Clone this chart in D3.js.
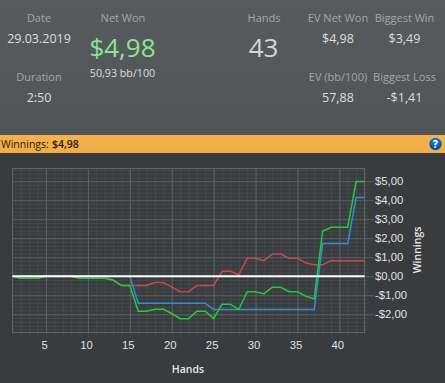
<!DOCTYPE html>
<html>
<head>
<meta charset="utf-8">
<script src="https://cdn.jsdelivr.net/npm/d3@7"></script>
<style>
  html, body { margin: 0; padding: 0; background: #383c3f; }
  svg { display: block; font-family: "Open Sans", "Noto Sans", sans-serif; }
</style>
</head>
<body>
<svg></svg>
<script>
const hands = d3.range(1, 44)

const net_won = [0, -0.1, -0.1, -0.1, 0, 0, 0, 0, -0.1, -0.1, -0.1, -0.1, -0.2, -0.49, -0.49,
  -1.84, -1.84, -1.74, -1.74, -1.96, -2.23, -2.23, -1.84, -1.84, -2.23, -1.47, -1.47, -1.74,
  -0.81, -0.81, -0.93, -0.58, -0.58, -0.81, -0.81, -1.05, -1.19, 2.37, 2.58, 2.58, 2.58, 4.98, 4.98]

const showdown = [0, -0.1, -0.1, -0.1, 0, 0, 0, 0, -0.1, -0.1, -0.1, -0.1, -0.2, -0.49, -0.49,
  -0.49, -0.49, -0.33, -0.33, -0.56, -0.81, -0.81, -0.49, -0.49, -0.49, 0.26, 0.26, 0.07,
  0.95, 0.95, 0.82, 1.17, 1.17, 0.95, 0.95, 0.7, 0.6, 0.6, 0.82, 0.82, 0.82, 0.82, 0.82]

const ev_won = [0, 0, 0, 0, 0, 0, 0, 0, 0, 0, 0, 0, 0, 0, 0,
  -1.42, -1.42, -1.42, -1.42, -1.42, -1.42, -1.42, -1.42, -1.42, -1.75, -1.75, -1.75, -1.75,
  -1.75, -1.75, -1.75, -1.75, -1.75, -1.75, -1.75, -1.75, -1.75, 1.72, 1.72, 1.72, 1.72, 4.14, 4.14]

const x_labels = [5, 10, 15, 20, 25, 30, 35, 40]
const y_labels = [-2, -1, 0, 1, 2, 3, 4, 5]
const y_minor = d3.range(-14, 29).map(d => d / 5)

const header_left = [
  ["Date", "29.03.2019", 39, 21.5, 43],
  ["Duration", "2:50", 39, 81, 102]
]
const header_right = [
  ["EV Net Won", "$4,98", 338, 21.5, 43],
  ["Biggest Win", "$3,49", 404.5, 21.5, 43],
  ["EV (bb/100)", "57,88", 338, 81, 102],
  ["Biggest Loss", "-$1,41", 404.5, 81, 102]
]

const width = 445
const height = 383
const marginLeft = 12.5
const marginRight = 80.5
const marginTop = 168.5
const marginBottom = 50.5

const svg = d3.select("svg")
  .attr("width", width)
  .attr("height", height)
  .attr("viewBox", [0, 0, width, height])

const money = v => (v < 0 ? "-$" : "$") + Math.abs(v).toFixed(2).replace(".", ",")

const scale_x = d3.scaleLinear().domain([1, 43]).range([marginLeft, width - marginRight])
const scale_y = d3.scaleLinear().domain([-2.96, 5.67]).range([height - marginBottom, marginTop])

// ------- backgrounds
const defs = svg.append("defs")
const top_grad = defs.append("linearGradient").attr("id", "top_grad").attr("x2", 0).attr("y2", 1)
top_grad.append("stop").attr("offset", 0).attr("stop-color", "#575b5e")
top_grad.append("stop").attr("offset", 1).attr("stop-color", "#515558")
const bar_grad = defs.append("linearGradient").attr("id", "bar_grad").attr("x2", 0).attr("y2", 1)
bar_grad.append("stop").attr("offset", 0).attr("stop-color", "#f6b24a")
bar_grad.append("stop").attr("offset", 1).attr("stop-color", "#f2ac46")
const help_grad = defs.append("radialGradient").attr("id", "help_grad").attr("cy", 0.35)
help_grad.append("stop").attr("offset", 0).attr("stop-color", "#3d8fd0")
help_grad.append("stop").attr("offset", 1).attr("stop-color", "#0e4c8c")

svg.append("rect").attr("width", width).attr("height", 135).attr("fill", "url(#top_grad)")
svg.append("rect").attr("y", 135).attr("width", width).attr("height", 18).attr("fill", "url(#bar_grad)")

// ------- header text
const put = (str, x, y, size, fill) => svg.append("text")
  .attr("x", x).attr("y", y)
  .attr("text-anchor", "middle")
  .attr("font-size", size)
  .attr("fill", fill)
  .text(str)

header_left.concat(header_right).forEach(([label, value, x, y1, y2]) => {
  put(label, x, y1, 11, "#a3a6a8")
  put(value, x, y2, 12.5, "#dcdddd")
})

put("Net Won", 123, 21.5, 11, "#a3a6a8")
put("$4,98", 122.5, 57, 26, "#8be58f")
put("50,93 bb/100", 122.5, 77, 10.7, "#dcdddd")
put("Hands", 264, 21.5, 11, "#a3a6a8")
put("43", 263.5, 57, 26, "#d4d5d6")

svg.append("text").attr("x", 1).attr("y", 148).attr("font-size", 10.5).attr("fill", "#1c1a14").text("Winnings:")
svg.append("text").attr("x", 52).attr("y", 148).attr("font-size", 10.5).attr("font-weight", 600).attr("fill", "#1c1a14").text("$4,98")

svg.append("circle").attr("cx", 435.5).attr("cy", 144).attr("r", 6.5)
  .attr("fill", "url(#help_grad)").attr("stroke", "#cfd6dc").attr("stroke-width", 0.5)
put("?", 435.5, 147.5, 10, "#ffffff").attr("font-weight", 700)

// ------- grid & axes
const plotW = width - marginLeft - marginRight
const plotH = height - marginTop - marginBottom

const minor_x = d3.axisBottom(scale_x).tickValues(hands).tickSize(-plotH - 5).tickFormat("")
svg.append("g")
  .attr("transform", `translate(0, ${height - marginBottom + 5})`)
  .call(minor_x)
  .call(g => g.select(".domain").remove())
  .call(g => g.selectAll(".tick line").attr("stroke", "#46494c"))

const minor_y = d3.axisRight(scale_y).tickValues(y_minor).tickSize(-plotW - 4).tickFormat("")
svg.append("g")
  .attr("transform", `translate(${width - marginRight + 4}, 0)`)
  .call(minor_y)
  .call(g => g.select(".domain").remove())
  .call(g => g.selectAll(".tick line").attr("stroke", "#46494c"))

const xAxis = d3.axisBottom(scale_x).tickValues(x_labels).tickSize(-plotH).tickPadding(8)
svg.append("g")
  .attr("transform", `translate(0, ${height - marginBottom})`)
  .call(xAxis)
  .call(g => g.select(".domain").remove())
  .call(g => g.selectAll(".tick line").attr("stroke", "#5c6063"))
  .call(g => g.selectAll("text").attr("fill", "#e0e1e1").attr("font-size", 11.3).attr("dx", -2))

const yAxis = d3.axisRight(scale_y).tickValues(y_labels).tickFormat(money).tickSize(-plotW - 9).tickPadding(1.5)
svg.append("g")
  .attr("transform", `translate(${width - marginRight + 9}, 0)`)
  .call(yAxis)
  .call(g => g.select(".domain").remove())
  .call(g => g.selectAll(".tick line").attr("stroke", "#5c6063"))
  .call(g => g.selectAll("text").attr("fill", "#e0e1e1").attr("font-size", 11.3).attr("dy", "0.28em"))

svg.append("rect")
  .attr("x", marginLeft).attr("y", marginTop)
  .attr("width", plotW).attr("height", plotH)
  .attr("fill", "none").attr("stroke", "#5f6366")

svg.append("text")
  .attr("transform", `translate(421, 250) rotate(-90)`)
  .attr("text-anchor", "middle")
  .attr("font-size", 10.5).attr("font-weight", 600).attr("fill", "#e6e6e6")
  .text("Winnings")

svg.append("text")
  .attr("x", 188).attr("y", 373)
  .attr("text-anchor", "middle")
  .attr("font-size", 10.5).attr("font-weight", 600).attr("fill", "#e6e6e6")
  .text("Hands")

// ------- lines
const line = d3.line().x((d, i) => scale_x(hands[i])).y(d => scale_y(d))

const series = [
  [showdown, "#c9484c"],
  [ev_won, "#2f8fd0"],
  [net_won, "#22cc33"]
]

svg.selectAll(".series")
  .data(series)
  .join("path")
  .attr("class", "series")
  .attr("d", d => line(d[0]))
  .attr("fill", "none")
  .attr("stroke", d => d[1])
  .attr("stroke-width", 1.5)

// white zero line sits on top of everything
svg.append("line")
  .attr("x1", scale_x(1)).attr("x2", scale_x(43))
  .attr("y1", scale_y(0)).attr("y2", scale_y(0))
  .attr("stroke", "#ffffff").attr("stroke-width", 2)
</script>
</body>
</html>
